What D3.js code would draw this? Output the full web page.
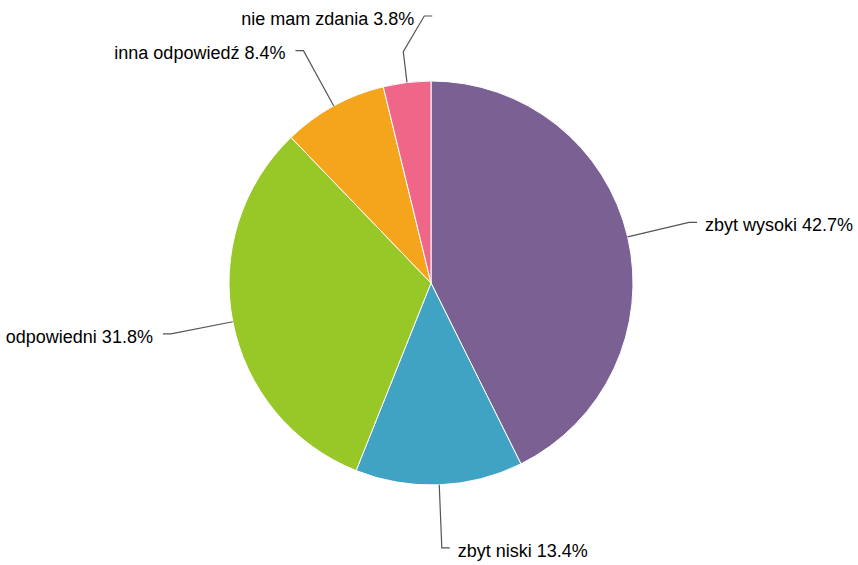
<!DOCTYPE html>
<html><head><meta charset="utf-8">
<script src="https://cdn.jsdelivr.net/npm/d3@7"></script>
<style>html,body{margin:0;padding:0;background:#fff;}svg{display:block;}</style>
</head><body>
<svg id="c" width="858" height="565"></svg>
<script>
const categories = ["zbyt wysoki", "zbyt niski", "odpowiedni", "inna odpowiedź", "nie mam zdania"];
const values = [42.7, 13.4, 31.8, 8.4, 3.8];
const colors = ["#7B6093", "#41A3C4", "#97C827", "#F5A51C", "#F06689"];

const W = 858, H = 565, cx = 431, cy = 283, R = 202;
const svg = d3.select("#c");
const g = svg.append("g").attr("transform", `translate(${cx},${cy})`);

const data = categories.map((c, i) => ({ name: c, value: values[i], color: colors[i] }));
const pie = d3.pie().value(d => d.value).sort(null);
const arc = d3.arc().innerRadius(0).outerRadius(R);
const arcs = pie(data);

g.selectAll("path.slice").data(arcs).enter().append("path")
  .attr("class", "slice")
  .attr("d", arc)
  .attr("fill", d => d.data.color)
  .attr("stroke", "#fff").attr("stroke-width", 1);

const pt = (a, r) => [r * Math.sin(a), -r * Math.cos(a)];
const elbowR = 265, tick = 8, gapR = 8, gapL = 10;

arcs.forEach((d, i) => {
  const a = (d.startAngle + d.endAngle) / 2;
  const p0 = pt(a, R);
  const right = Math.sin(a) > 0;
  let pts, tx, ty, anchor;
  if (i === 4) {
    // label nudged upward to avoid overlap
    const p1 = pt(a, 233);
    const p2 = [p1[0] + 21, -267];
    const p3 = [p2[0] + 8, p2[1]];
    pts = [p0, p1, p2, p3];
    tx = p2[0] - 10; ty = p2[1] + 3; anchor = "end";
  } else {
    const p1 = pt(a, elbowR);
    const p2 = [p1[0] + (right ? tick : -tick), p1[1]];
    pts = [p0, p1, p2];
    tx = p2[0] + (right ? gapR : -gapL); ty = p2[1] + 3; anchor = right ? "start" : "end";
  }
  g.append("polyline")
    .attr("points", pts.map(p => p.join(",")).join(" "))
    .attr("fill", "none").attr("stroke", "#555").attr("stroke-width", 1.2);
  g.append("text")
    .attr("x", tx).attr("y", ty)
    .attr("dy", "0.32em")
    .attr("text-anchor", anchor)
    .attr("font-family", "Liberation Sans, Arial, sans-serif")
    .attr("font-size", 18)
    .attr("fill", "#000")
    .text(`${d.data.name} ${d.data.value}%`);
});
</script>
</body></html>
